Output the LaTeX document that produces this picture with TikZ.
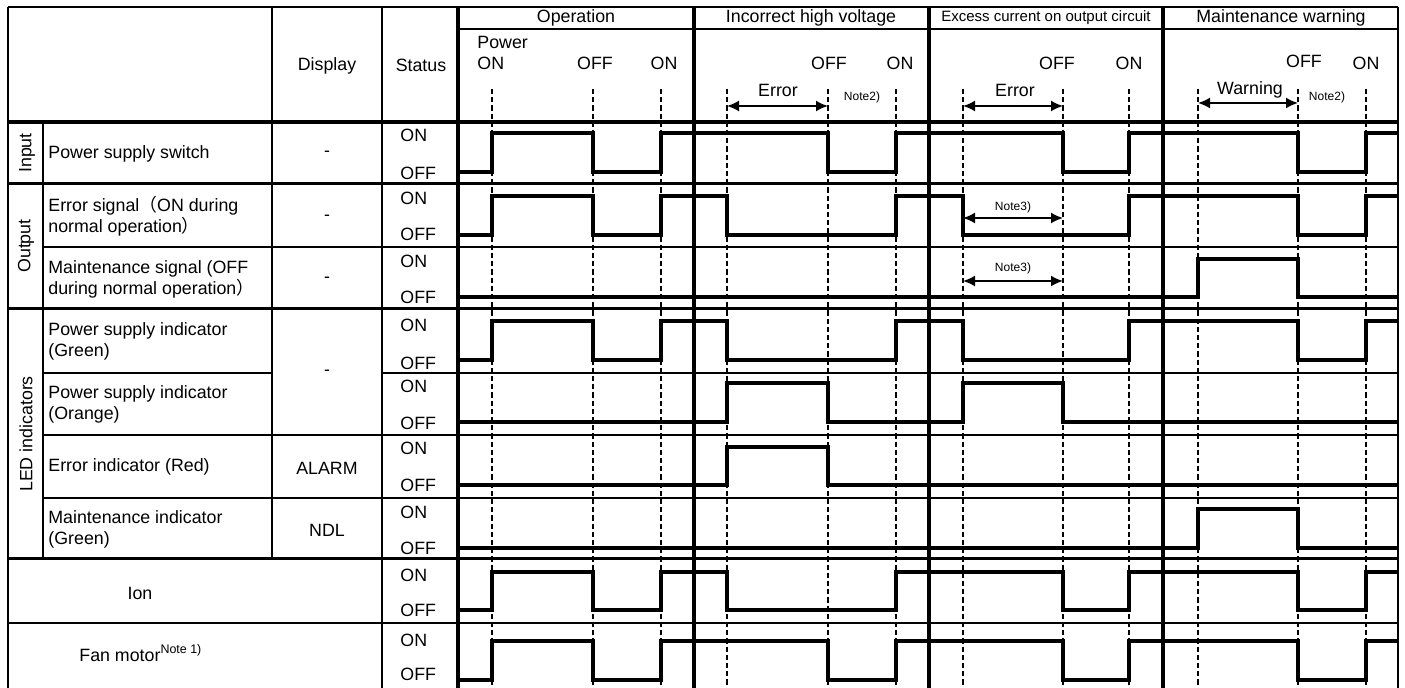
\documentclass[tikz,border=0pt]{standalone}
\usepackage{fontspec}
\setmainfont{Liberation Sans}
\newfontfamily\cjk{Noto Sans CJK JP}
\usetikzlibrary{arrows.meta}

\tikzset{
  heavy/.style={line width=2pt},
  rowline/.style={line width=1.5pt},
  colline/.style={line width=1.2pt},
  hair/.style={line width=0.9pt},
  wave/.style={line width=1.6pt, line join=miter},
  eventline/.style={line width=1pt, dash pattern=on 2.6pt off 1.5pt},
  span/.style={{Latex[length=6pt,width=5.5pt]}-{Latex[length=6pt,width=5.5pt]}, line width=0.9pt},
  notefont/.style={font=\fontsize{6}{7}\selectfont},
}

\begin{document}
\begin{tikzpicture}[x=0.5pt, y=-0.5pt, every node/.style={font=\fontsize{8.9}{10.5}\selectfont, inner sep=0pt}]
  \useasboundingbox (0,0) rectangle (1405,688);

  % event markers
  \foreach \x in {492,593,661,727,828,896,963,1063,1129,1198,1298,1366}
    \draw[eventline] (\x,89) -- (\x,690);

  % table rules
  \draw[colline] (8,7) -- (1398,7);
  \draw[colline] (8,7) -- (8,690);
  \draw[colline] (1398,7) -- (1398,690);
  \draw[colline] (43,122) -- (43,559);
  \draw[colline] (272,7) -- (272,559);
  \draw[colline] (382,7) -- (382,690);
  \draw[heavy] (458,7) -- (458,690);
  \foreach \x in {694,929,1163}
    \draw[heavy] (\x,7) -- (\x,690);
  \draw[hair] (458,29) -- (1398,29);
  \draw[heavy] (8,122) -- (1398,122);
  \foreach \y in {184,309,559}
    \draw[rowline] (8,\y) -- (1398,\y);
  \draw[hair] (43,247) -- (1398,247);
  \draw[hair] (43,373) -- (272,373);
  \draw[hair] (382,373) -- (1398,373);
  \draw[hair] (43,435) -- (1398,435);
  \draw[hair] (43,498) -- (1398,498);
  \draw[hair] (8,623) -- (1398,623);

  % section headings
  \node (secOp) at (576,18) {Operation};
  \node (secHV) at (811,18) {Incorrect high voltage};
  \node[font=\fontsize{7.5}{9}\selectfont] (secOC) at (1046,18) {Excess current on output circuit};
  \node (secMW) at (1281,18) {Maintenance warning};
  \node (hdDisp) at (327,66) {Display};
  \node (hdStat) at (421,65) {Status};

  % event labels
  \node[align=left, anchor=west] (evPwr) at (477,53) {Power\\ON};
  \node (evOffA) at (595,63) {OFF};
  \node (evOnA) at (664,63) {ON};
  \node (evOffB) at (829,63) {OFF};
  \node (evOnB) at (900,63) {ON};
  \node (evOffC) at (1057,63) {OFF};
  \node (evOnC) at (1129,63) {ON};
  \node (evOffD) at (1304,61) {OFF};
  \node (evOnD) at (1366,63) {ON};
  \node (errB) at (778,90) {Error};
  \node (errC) at (1015,90) {Error};
  \node (warnD) at (1250,90) {Warning};
  \node[notefont] (noteB) at (862,97) {Note2)};
  \node[notefont] (noteD) at (1327,97) {Note2)};
  \node[notefont] (noteErr) at (1013,207) {Note3)};
  \node[notefont] (noteMnt) at (1013,268) {Note3)};

  % duration arrows
  \coordinate (hvS) at (727,106);
  \coordinate (hvE) at (828,106);
  \coordinate (ocS) at (963,106);
  \coordinate (ocE) at (1063,106);
  \coordinate (mwS) at (1198,103);
  \coordinate (mwE) at (1298,103);
  \coordinate (esS) at (963,218);
  \coordinate (esE) at (1063,218);
  \coordinate (msS) at (963,281);
  \coordinate (msE) at (1063,281);
  \draw[span] (hvS) -- (hvE);
  \draw[span] (ocS) -- (ocE);
  \draw[span] (mwS) -- (mwE);
  \draw[span] (esS) -- (esE);
  \draw[span] (msS) -- (msE);

  % row groups and names
  \node[rotate=90] (grpIn) at (27,153) {Input};
  \node[rotate=90] (grpOut) at (26,246) {Output};
  \node[rotate=90] (grpLed) at (26,434) {LED indicators};
  \node[anchor=west] (nmSwitch) at (48,154) {Power supply switch};
  \node[anchor=west, align=left] (nmErrSig) at (48,216) {Error signal{\cjk （}ON during\\normal operation{\cjk ）}};
  \node[anchor=west, align=left] (nmMntSig) at (48,279) {Maintenance signal (OFF\\during normal operation{\cjk ）}};
  \node[anchor=west, align=left] (nmPwrG) at (48,341) {Power supply indicator\\(Green)};
  \node[anchor=west, align=left] (nmPwrO) at (48,404) {Power supply indicator\\(Orange)};
  \node[anchor=west] (nmErrInd) at (48,467) {Error indicator (Red)};
  \node[anchor=west, align=left] (nmMntInd) at (48,529) {Maintenance indicator\\(Green)};
  \node (nmIon) at (140,593) {Ion};
  \node[anchor=west] (nmFan) at (79,653) {Fan motor\textsuperscript{Note 1)}};

  % display column
  \node (dpSw) at (327,154) {-};
  \node (dpErr) at (327,218) {-};
  \node (dpMnt) at (327,280) {-};
  \node (dpPwr) at (327,373) {-};
  \node (dpAlm) at (327,468) {ALARM};
  \node (dpNdl) at (327,530) {NDL};

  % status column
  \foreach \on/\off [count=\r] in {135/173,198/234,261/297,325/363,386/423,448/485,512/548,575/610,640/674} {
    \node[anchor=west] (st\r on) at (400,\on) {ON};
    \node[anchor=west] (st\r off) at (400,\off) {OFF};
  }

  % waveforms
  \draw[wave] (460,172) -| (492,133) -| (593,172) -| (661,133) -| (828,172) -| (896,133) -| (1063,172) -| (1129,133) -| (1298,172) -| (1366,133) -- (1397,133);
  \draw[wave] (460,235) -| (492,196) -| (593,235) -| (661,196) -| (727,235) -| (896,196) -| (963,235) -| (1129,196) -| (1298,235) -| (1366,196) -- (1397,196);
  \draw[wave] (460,297) -| (1198,259) -| (1298,297) -- (1397,297);
  \draw[wave] (460,360) -| (492,321) -| (593,360) -| (661,321) -| (727,360) -| (896,321) -| (963,360) -| (1129,321) -| (1298,360) -| (1366,321) -- (1397,321);
  \draw[wave] (460,422) -| (727,383) -| (828,422) -| (963,383) -| (1063,422) -- (1397,422);
  \draw[wave] (460,485) -| (727,447) -| (828,485) -- (1397,485);
  \draw[wave] (460,548) -| (1198,509) -| (1298,548) -- (1397,548);
  \draw[wave] (460,610) -| (492,572) -| (593,610) -| (661,572) -| (727,610) -| (896,572) -| (1063,610) -| (1129,572) -| (1298,610) -| (1366,572) -- (1397,572);
  \draw[wave] (460,680) -| (492,641) -| (593,680) -| (661,641) -| (828,680) -| (896,641) -| (1063,680) -| (1129,641) -| (1298,680) -| (1366,641) -- (1397,641);
\end{tikzpicture}
\end{document}
